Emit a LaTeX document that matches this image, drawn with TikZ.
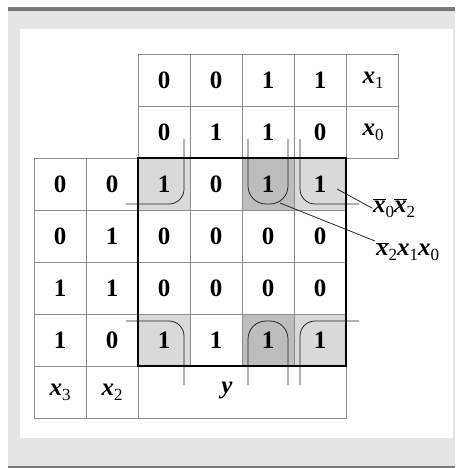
\documentclass[tikz,border=0pt]{standalone}
\usepackage{fontspec}
\setmainfont{Liberation Serif}
\newcommand{\sbs}[1]{\raisebox{-0.45ex}{\fontsize{17}{19}\selectfont #1}}
\newcommand{\xv}[1]{\textbf{\textit{x}}\sbs{#1}}
\newcommand{\xn}[1]{$\overline{\mbox{\textbf{\textit{x}}}}$\sbs{#1}}
\begin{document}
\begin{tikzpicture}[x=1pt,y=-1pt,every node/.style={font=\fontsize{25}{28}\selectfont},
  val/.style={font=\fontsize{25}{28}\selectfont\bfseries},
  cellline/.style={draw=black!45,line width=0.7pt},
  loopline/.style={black!85,line width=0.8pt}]
\useasboundingbox (0,0) rectangle (455,468);
% frame
\fill[black!10] (8,11) rectangle (455,466);
\fill[black!53] (8,7) rectangle (455,11);
\fill[black!53] (8,466) rectangle (455,468);
\fill[white] (20,29) rectangle (453,438);
% shaded cells of the map
\foreach \c/\r/\col in {2/2/black!15,4/2/black!26,5/2/black!15,2/5/black!15,4/5/black!26,5/5/black!15}
  \fill[\col] (34+52*\c,54+52*\r) rectangle ++(52,52);
% grid
\foreach \c in {2,...,6} \foreach \r in {0,1} \draw[cellline] (34+52*\c,54+52*\r) rectangle ++(52,52);
\foreach \c in {0,...,5} \foreach \r in {2,...,5} \draw[cellline] (34+52*\c,54+52*\r) rectangle ++(52,52);
\foreach \c in {0,1} \draw[cellline] (34+52*\c,366) rectangle ++(52,52);
\draw[cellline] (138,366) rectangle (346,418);
\draw[line width=1.6pt] (138,158) rectangle (346,366);
% column heads
\foreach \c/\v in {2/0,3/0,4/1,5/1} \node[val] (a\c) at (60+52*\c,80) {\v};
\foreach \c/\v in {2/0,3/1,4/1,5/0} \node[val] (b\c) at (60+52*\c,132) {\v};
\node (x1) at (373,80) {\xv{1}};
\node (x0) at (373,132) {\xv{0}};
% rows: x3 x2 | y
\foreach \r/\p/\q/\s/\t/\u/\w in {2/0/0/1/0/1/1,3/0/1/0/0/0/0,4/1/1/0/0/0/0,5/1/0/1/1/1/1} {
  \node[val] (m\r-0) at (60,80+52*\r) {\p};
  \node[val] (m\r-1) at (112,80+52*\r) {\q};
  \node[val] (m\r-2) at (164,80+52*\r) {\s};
  \node[val] (m\r-3) at (216,80+52*\r) {\t};
  \node[val] (m\r-4) at (268,80+52*\r) {\u};
  \node[val] (m\r-5) at (320,80+52*\r) {\w};
}
\node (x3) at (60,392) {\xv{3}};
\node (x2) at (112,392) {\xv{2}};
\node (yv) at (227,390) {\textbf{\textit{y}}};
% groups
\draw[loopline,rounded corners=15pt] (126,204) -| (184,139);
\draw[loopline,rounded corners=15pt] (359,204) -| (300,139);
\draw[loopline,rounded corners=15pt] (126,321) -| (184,385);
\draw[loopline,rounded corners=15pt] (359,321) -| (300,385);
\draw[loopline,rounded corners=18pt] (248,139) |- (288,204) -- (288,139);
\draw[loopline,rounded corners=18pt] (248,385) |- (288,321) -- (288,385);
% terms
\node[anchor=west,inner sep=1pt] (g1) at (372,208) {\xn{0}\xn{2}};
\node[anchor=north west,inner sep=1pt] (g2) at (375,241) {\xn{2}\xv{1}\xv{0}};
\coordinate (p1) at (337,189);
\coordinate (p2) at (280,203);
\draw[loopline] (p1) -- (g1.west);
\draw[loopline] (p2) -- (g2.north west);
\end{tikzpicture}
\end{document}
